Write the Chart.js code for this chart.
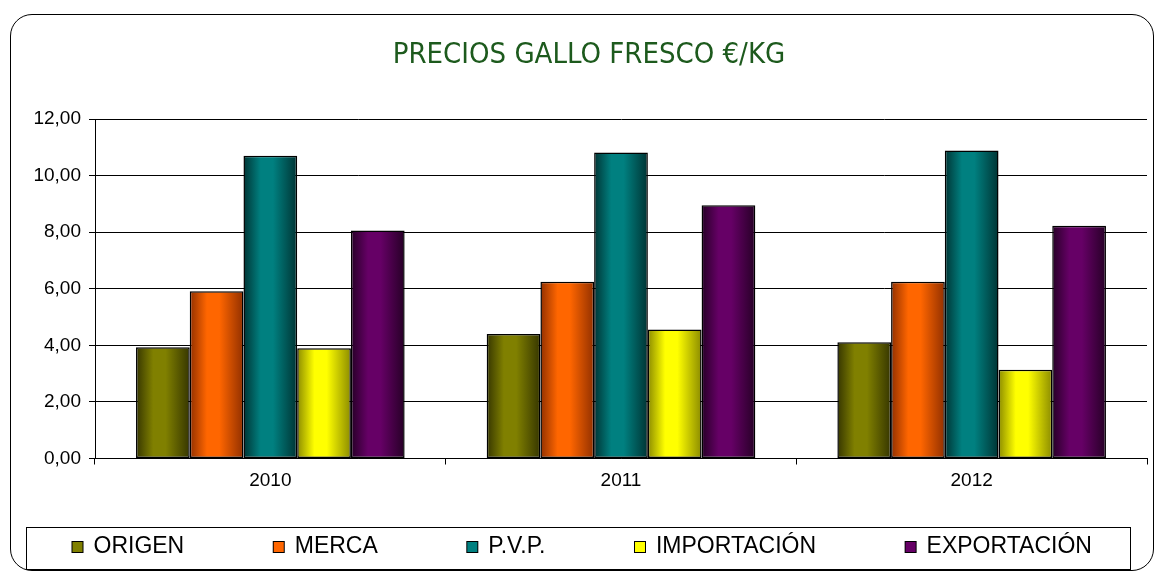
<!DOCTYPE html>
<html>
<head>
<meta charset="utf-8">
<script src="https://cdn.jsdelivr.net/npm/chart.js@4.4.1/dist/chart.umd.min.js"></script>
<style>
  html, body { margin: 0; padding: 0; background: #fff; }
  #wrap { position: relative; width: 1157px; height: 572px; overflow: hidden; }
  #frame { position: absolute; left: 10px; top: 14px; width: 1144px; height: 557px;
           box-sizing: border-box; border: 1.5px solid #000; border-radius: 22px; }
  #c { position: absolute; left: 0; top: 0; }
</style>
</head>
<body>
<div id="wrap">
  <div id="frame"></div>
  <canvas id="c" width="1157" height="572"></canvas>
</div>
<script>
// ---- data ----
const categories = ['2010', '2011', '2012'];
const seriesNames = ['ORIGEN', 'MERCA', 'P.V.P.', 'IMPORTACIÓN', 'EXPORTACIÓN'];
const origen      = [3.93, 4.40, 4.11];
const merca       = [5.91, 6.25, 6.25];
const pvp         = [10.70, 10.82, 10.89];
const importacion = [3.90, 4.56, 3.14];
const exportacion = [8.06, 8.95, 8.23];
const yTickLabels = ['0,00', '2,00', '4,00', '6,00', '8,00', '10,00', '12,00'];
const chartTitle = 'PRECIOS GALLO FRESCO €/KG';

// ---- styles ----
const baseColors = ['#808000', '#FF6600', '#008080', '#FFFF00', '#660066'];
const edgeColors = ['#363600', '#923000', '#003434', '#8c8c00', '#260026'];
const FONT = '"Liberation Sans", Arial, sans-serif';
const LEGEND_FONT = 23;
const KEY_W = 87;       // layout width reserved for each legend key

const seriesValues = [origen, merca, pvp, importacion, exportacion];
const datasets = seriesNames.map((name, i) => ({
  label: name,
  data: seriesValues[i],
  backgroundColor: baseColors[i],
  borderColor: '#000',
  borderWidth: 1.5,
  borderSkipped: false,
  categoryPercentage: 0.766,
  barPercentage: 1.0
}));

// legend key image: small bordered square placed just before the text
function makeKey(color) {
  const half = KEY_W / 2;
  const textStart = KEY_W + LEGEND_FONT / 2;   // relative to item start
  const sqRight = textStart - 10, sqLeft = sqRight - 12;
  const imgW = Math.ceil(2 * (sqRight - half)) + 2;
  const cv = document.createElement('canvas');
  cv.width = imgW; cv.height = 14;
  const c = cv.getContext('2d');
  const x0 = Math.round(sqLeft - (half - imgW / 2));
  c.fillStyle = color;
  c.fillRect(x0, 1, 12, 12);
  c.strokeStyle = '#000';
  c.lineWidth = 1;
  c.strokeRect(x0 + 0.5, 1.5, 11, 11);
  return cv;
}
const keyImages = baseColors.map(makeKey);

const shadePlugin = {
  id: 'barShade',
  beforeDatasetsDraw(chart) {
    const c = chart.ctx;
    chart.data.datasets.forEach((ds, i) => {
      const meta = chart.getDatasetMeta(i);
      meta.data.forEach(el => {
        const p = el.getProps(['x', 'width'], true);
        const g = c.createLinearGradient(p.x - p.width / 2, 0, p.x + p.width / 2, 0);
        g.addColorStop(0, edgeColors[i]);
        g.addColorStop(0.32, baseColors[i]);
        g.addColorStop(0.55, baseColors[i]);
        g.addColorStop(1, edgeColors[i]);
        el.options = Object.assign({}, el.options, { backgroundColor: g });
      });
    });
  }
};

// nudge the title and legend boxes horizontally to the reference placement
const placePlugin = {
  id: 'place',
  afterLayout(chart) {
    if (chart.titleBlock) { chart.titleBlock.left += 15.5; chart.titleBlock.right += 15.5; }
    if (chart.legend) { chart.legend.left -= 17; chart.legend.right -= 17; }
  }
};

const legendFramePlugin = {
  id: 'legendFrame',
  afterDraw(chart) {
    const lg = chart.legend;
    if (!lg || !lg.legendHitBoxes || !lg.legendHitBoxes.length) return;
    const hb = lg.legendHitBoxes[0];
    const cy = hb.top + hb.height / 2;
    const c = chart.ctx;
    c.save();
    c.strokeStyle = '#000';
    c.lineWidth = 1;
    c.strokeRect(26.5, Math.round(cy - 20) + 0.5, 1104, 42);
    c.restore();
  }
};

new Chart(document.getElementById('c'), {
  type: 'bar',
  data: { labels: categories, datasets },
  plugins: [shadePlugin, placePlugin, legendFramePlugin],
  options: {
    responsive: false,
    animation: false,
    layout: { padding: { left: 0, right: 10, top: 38, bottom: 3.5 } },
    plugins: {
      title: {
        display: true,
        text: chartTitle,
        color: '#1d5a1d',
        font: { family: '"Liberation Sans Narrow", "DejaVu Sans Condensed", "Liberation Sans", sans-serif', size: 29, weight: 'normal', lineHeight: 1.2 },
        padding: { top: 0, bottom: 46.2 }
      },
      legend: {
        position: 'bottom',
        align: 'start',
        labels: {
          usePointStyle: true,
          pointStyleWidth: KEY_W,
          color: '#000',
          padding: 12,
          font: { family: FONT, size: LEGEND_FONT },
          generateLabels: (chart) => chart.data.datasets.map((ds, i) => ({
            text: ds.label,
            fillStyle: baseColors[i],
            strokeStyle: '#000',
            lineWidth: 1,
            pointStyle: keyImages[i],
            hidden: false,
            datasetIndex: i
          }))
        }
      },
      tooltip: { enabled: false }
    },
    scales: {
      x: {
        afterFit(scale) { scale.height = 65; },
        grid: { display: true, drawOnChartArea: false, drawTicks: true, tickLength: 6, color: '#000', offset: true },
        border: { display: true, color: '#000', width: 1 },
        ticks: { color: '#000', padding: 5, font: { family: FONT, size: 19 } }
      },
      y: {
        min: 0, max: 12,
        afterFit(scale) { scale.width = 95; },
        grid: { color: '#000', lineWidth: 1, tickLength: 6, drawTicks: true },
        border: { display: true, color: '#000', width: 1 },
        ticks: {
          stepSize: 2,
          color: '#000',
          padding: 8,
          font: { family: FONT, size: 19 },
          callback: (v, idx) => yTickLabels[idx]
        }
      }
    }
  }
});
</script>
</body>
</html>
